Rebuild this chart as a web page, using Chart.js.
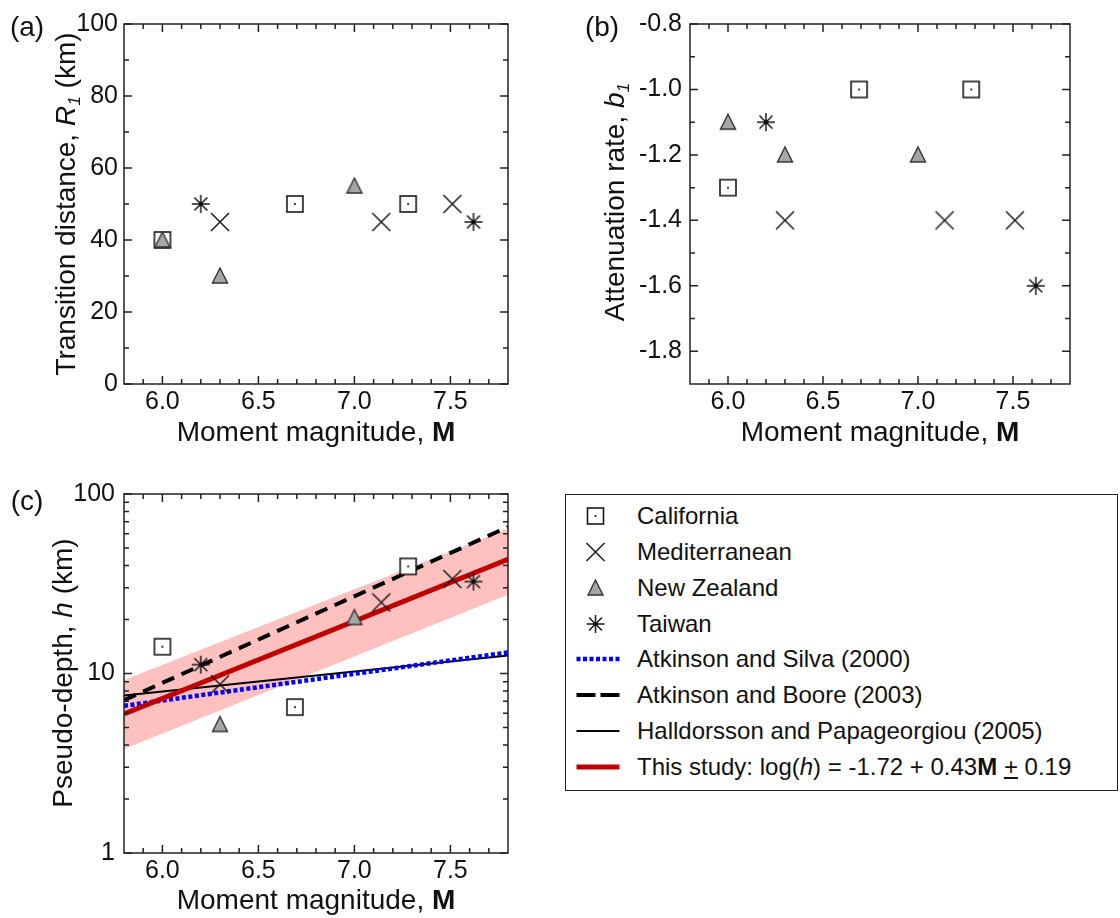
<!DOCTYPE html>
<html>
<head>
<meta charset="utf-8">
<title>Transition distance, attenuation rate and pseudo-depth vs magnitude</title>
<script src="https://cdn.jsdelivr.net/npm/chart.js@4.4.1/dist/chart.umd.min.js"></script>
<style>
  body { margin: 0; background: #fff; }
  #page { position: relative; width: 1120px; height: 918px; overflow: hidden;
          font-family: 'Liberation Sans', Arial, sans-serif; color: #111; }
  #page canvas.panel { position: absolute; }
  .txt { position: absolute; white-space: nowrap; line-height: 1; font-size: 28px;
         transform: translate(-50%, -50%); }
  .rot { transform: translate(-50%, -50%) rotate(-90deg); }
  sub { font-size: 0.62em; vertical-align: -0.28em; line-height: 0; }
  #legend { position: absolute; left: 565px; top: 494px; width: 553px; height: 297px;
            border: 1.5px solid #222; box-sizing: border-box; }
  .row { position: absolute; left: 0; width: 540px; height: 30px; font-size: 24px; line-height: 30px; }
  .row canvas { position: absolute; left: 6px; top: 0; }
  .row span { position: absolute; left: 71px; white-space: nowrap; }
</style>
</head>
<body>
<div id="page">
  <div class="txt" style="left:27px;top:27px">(a)</div>
  <div class="txt" style="left:602px;top:27px">(b)</div>
  <div class="txt" style="left:27px;top:501px">(c)</div>

  <div class="txt rot" style="left:66px;top:204px">Transition distance, <i>R</i><sub><i>1</i></sub> (km)</div>
  <div class="txt rot" style="left:615px;top:202px">Attenuation rate, <i>b</i><sub><i>1</i></sub></div>
  <div class="txt rot" style="left:63px;top:673px">Pseudo-depth, <i>h</i> (km)</div>

  <div class="txt" style="left:316px;top:432px">Moment magnitude, <b>M</b></div>
  <div class="txt" style="left:880px;top:432px">Moment magnitude, <b>M</b></div>
  <div class="txt" style="left:316px;top:900px">Moment magnitude, <b>M</b></div>

  <div id="legend"></div>
</div>

<script>
// ---- data ----
// California
const caliM  = [6.0, 6.69, 7.28];
const caliR1 = [40, 50, 50];
const caliB1 = [-1.3, -1.0, -1.0];
const caliH  = [14.1, 6.5, 39.5];
// Mediterranean
const medM  = [6.3, 7.14, 7.51];
const medR1 = [45, 45, 50];
const medB1 = [-1.4, -1.4, -1.4];
const medH  = [8.7, 24.9, 33.6];
// New Zealand (no h value shown for the M6.0 event)
const nzM  = [6.0, 6.3, 7.0];
const nzR1 = [40, 30, 55];
const nzB1 = [-1.1, -1.2, -1.2];
const nzH  = [null, 5.2, 20.5];
// Taiwan
const twM  = [6.2, 7.62];
const twR1 = [50, 45];
const twB1 = [-1.1, -1.6];
const twH  = [11.2, 32.5];

// model curves for h, end points at M 5.8 and 7.8
const fitM    = [5.8, 7.8];
const asH     = [6.6, 13.1];   // Atkinson and Silva (2000)
const abH     = [7.1, 65.5];   // Atkinson and Boore (2003)
const hpH     = [7.55, 12.6];  // Halldorsson and Papageorgiou (2005)
const studyH  = [5.95, 43.3];  // this study
const studyLo = [3.8, 27.5];
const studyHi = [9.2, 64];

// ticks
const magTicks = [6.0, 6.5, 7.0, 7.5];
const magMinor = [5.9, 6.1, 6.2, 6.3, 6.4, 6.6, 6.7, 6.8, 6.9, 7.1, 7.2, 7.3, 7.4, 7.6, 7.7];
const r1Ticks = [0, 20, 40, 60, 80, 100];
const r1Minor = [10, 30, 50, 70, 90];
const b1Ticks = [-1.8, -1.6, -1.4, -1.2, -1.0, -0.8];
const b1Minor = [-1.7, -1.5, -1.3, -1.1, -0.9];
const hTicks = [1, 10, 100];
const hMinor = [2, 3, 4, 5, 6, 7, 8, 9, 20, 30, 40, 50, 60, 70, 80, 90];

const regionNames = ['California', 'Mediterranean', 'New Zealand', 'Taiwan'];
const modelNames = ['Atkinson and Silva (2000)', 'Atkinson and Boore (2003)',
                    'Halldorsson and Papageorgiou (2005)'];

Chart.defaults.font.family = "'Liberation Sans', Arial, sans-serif";
Chart.defaults.color = '#111';

const page = document.getElementById('page');

function pts(xs, ys) {
  return xs.map((x, i) => ({ x: x, y: ys[i] }));
}

function drawMarker(g, kind, cx, cy) {
  g.save();
  g.translate(cx, cy);
  g.strokeStyle = '#1a1a1a';
  g.lineWidth = 1.6;
  if (kind === 'square') {
    g.fillStyle = '#fff';
    g.fillRect(-8, -8, 16, 16);
    g.strokeRect(-8, -8, 16, 16);
    g.fillStyle = '#111';
    g.fillRect(-0.9, -0.9, 1.8, 1.8);
  } else if (kind === 'cross') {
    g.lineWidth = 1.5;
    g.beginPath();
    g.moveTo(-9, -9); g.lineTo(9, 9);
    g.moveTo(9, -9); g.lineTo(-9, 9);
    g.stroke();
  } else if (kind === 'tri') {
    g.strokeStyle = '#333';
    g.lineWidth = 1.4;
    g.beginPath();
    g.moveTo(0, -8); g.lineTo(7.5, 7); g.lineTo(-7.5, 7);
    g.closePath();
    g.fillStyle = '#a6a6a6';
    g.fill();
    g.stroke();
  } else if (kind === 'star') {
    g.lineWidth = 1.5;
    g.beginPath();
    g.moveTo(0, -9); g.lineTo(0, 9);
    g.moveTo(-9, 0); g.lineTo(9, 0);
    g.moveTo(-6.5, -6.5); g.lineTo(6.5, 6.5);
    g.moveTo(6.5, -6.5); g.lineTo(-6.5, 6.5);
    g.stroke();
    g.fillStyle = '#111';
    g.beginPath(); g.arc(0, 0, 2.2, 0, Math.PI * 2); g.fill();
  }
  g.restore();
}

function markerImg(kind) {
  const c = document.createElement('canvas');
  c.width = 24; c.height = 24;
  drawMarker(c.getContext('2d'), kind, 12, 12);
  return c;
}
const mk = { square: markerImg('square'), cross: markerImg('cross'),
             tri: markerImg('tri'), star: markerImg('star') };

// box with inward ticks on all four sides
function boxTicks(xMajor, xMinor, yMajor, yMinor) {
  return {
    id: 'boxTicks',
    afterDatasetsDraw(chart) {
      const { ctx, chartArea: a, scales: { x, y } } = chart;
      ctx.save();
      ctx.strokeStyle = '#222';
      ctx.lineWidth = 1.5;
      ctx.beginPath();
      const vt = (v, len) => {
        const p = x.getPixelForValue(v);
        ctx.moveTo(p, a.bottom); ctx.lineTo(p, a.bottom - len);
        ctx.moveTo(p, a.top); ctx.lineTo(p, a.top + len);
      };
      const ht = (v, len) => {
        const p = y.getPixelForValue(v);
        ctx.moveTo(a.left, p); ctx.lineTo(a.left + len, p);
        ctx.moveTo(a.right, p); ctx.lineTo(a.right - len, p);
      };
      xMajor.forEach(v => vt(v, 8));
      xMinor.forEach(v => vt(v, 5));
      yMajor.forEach(v => ht(v, 8));
      yMinor.forEach(v => ht(v, 5));
      ctx.stroke();
      ctx.strokeRect(a.left, a.top, a.right - a.left, a.bottom - a.top);
      ctx.restore();
    }
  };
}

// one scatter dataset per region; ys = [cali, med, nz, tw]
function regionSets(ys) {
  return [
    { label: regionNames[0], data: pts(caliM, ys[0]), pointStyle: mk.square, pointRadius: 9, order: 4 },
    { label: regionNames[1], data: pts(medM, ys[1]), pointStyle: mk.cross, pointRadius: 9, order: 3 },
    { label: regionNames[2], data: pts(nzM, ys[2]), pointStyle: mk.tri, pointRadius: 9, order: 2 },
    { label: regionNames[3], data: pts(twM, ys[3]), pointStyle: mk.star, pointRadius: 9, order: 1 }
  ];
}

function makePanel(left, top, w, h, area, yScale, datasets, yMajor, yMinor) {
  const cv = document.createElement('canvas');
  cv.className = 'panel';
  cv.width = w; cv.height = h;
  cv.style.left = left + 'px'; cv.style.top = top + 'px';
  cv.style.width = w + 'px'; cv.style.height = h + 'px';
  page.insertBefore(cv, page.firstChild);

  return new Chart(cv, {
    type: 'scatter',
    data: { datasets: datasets },
    options: {
      responsive: false,
      animation: false,
      devicePixelRatio: 1,
      events: [],
      layout: { padding: { left: 0, top: area.t, right: w - area.r, bottom: 0 } },
      plugins: { legend: { display: false }, tooltip: { enabled: false } },
      scales: {
        x: {
          type: 'linear', min: 5.8, max: 7.8,
          afterBuildTicks: s => { s.ticks = magTicks.map(v => ({ value: v })); },
          afterFit: s => { s.height = h - area.b; },
          grid: { display: false, drawTicks: false },
          border: { display: false },
          ticks: { font: { size: 25 }, color: '#111', padding: 3, maxRotation: 0,
                   autoSkip: false, callback: v => v.toFixed(1) }
        },
        y: Object.assign({
          afterFit: s => { s.width = area.l; },
          grid: { display: false, drawTicks: false },
          border: { display: false }
        }, yScale)
      }
    },
    plugins: [boxTicks(magTicks, magMinor, yMajor, yMinor)]
  });
}

// (a) transition distance
makePanel(0, 0, 560, 470, { l: 124, t: 24, r: 508, b: 384 }, {
  type: 'linear', min: 0, max: 100,
  afterBuildTicks: s => { s.ticks = r1Ticks.map(v => ({ value: v })); },
  ticks: { font: { size: 25 }, color: '#111', padding: 6, autoSkip: false, callback: v => String(v) }
}, regionSets([caliR1, medR1, nzR1, twR1]), r1Ticks, r1Minor);

// (b) attenuation rate
makePanel(560, 0, 560, 470, { l: 130, t: 24, r: 510, b: 384 }, {
  type: 'linear', min: -1.9, max: -0.8,
  afterBuildTicks: s => { s.ticks = b1Ticks.map(v => ({ value: v })); },
  ticks: { font: { size: 25 }, color: '#111', padding: 8, autoSkip: false, callback: v => v.toFixed(1) }
}, regionSets([caliB1, medB1, nzB1, twB1]), b1Ticks, b1Minor);

// (c) pseudo-depth with model curves
const lineSets = [
  { type: 'line', label: 'band upper', data: pts(fitM, studyHi), fill: '+1',
    backgroundColor: '#ffc0c0', borderColor: 'rgba(0,0,0,0)', borderWidth: 0,
    pointRadius: 0, order: 20 },
  { type: 'line', label: 'band lower', data: pts(fitM, studyLo), fill: false,
    borderColor: 'rgba(0,0,0,0)', borderWidth: 0, pointRadius: 0, order: 19 },
  { type: 'line', label: modelNames[2], data: pts(fitM, hpH), fill: false,
    borderColor: '#000', borderWidth: 2, pointRadius: 0, order: 12 },
  { type: 'line', label: modelNames[1], data: pts(fitM, abH), fill: false,
    borderColor: '#000', borderWidth: 4, borderDash: [13, 8], pointRadius: 0, order: 11 },
  { type: 'line', label: modelNames[0], data: pts(fitM, asH), fill: false,
    borderColor: '#0000ff', borderWidth: 4.5, borderDash: [4, 2.5], pointRadius: 0, order: 10 },
  { type: 'line', label: 'This study', data: pts(fitM, studyH), fill: false,
    borderColor: '#c00000', borderWidth: 5, pointRadius: 0, order: 9 }
];

makePanel(0, 470, 560, 448, { l: 124, t: 23, r: 508, b: 383 }, {
  type: 'logarithmic', min: 1, max: 100,
  afterBuildTicks: s => { s.ticks = hTicks.map(v => ({ value: v })); },
  ticks: { font: { size: 25 }, color: '#111', padding: 9, autoSkip: false, callback: v => String(v) }
}, lineSets.concat(regionSets([caliH, medH, nzH, twH])), hTicks, hMinor);

// legend
function seg(g) {
  g.beginPath(); g.moveTo(4.5, 15); g.lineTo(47.5, 15); g.stroke();
}
const legend = document.getElementById('legend');
const legendRows = [
  { text: regionNames[0], draw: g => drawMarker(g, 'square', 23.5, 15) },
  { text: regionNames[1], draw: g => drawMarker(g, 'cross', 23.5, 15) },
  { text: regionNames[2], draw: g => drawMarker(g, 'tri', 23.5, 15) },
  { text: regionNames[3], draw: g => drawMarker(g, 'star', 23.5, 15) },
  { text: modelNames[0], draw: g => { g.strokeStyle = '#0000ff'; g.lineWidth = 4.5; g.setLineDash([4, 2.5]); seg(g); } },
  { text: modelNames[1], draw: g => { g.strokeStyle = '#000'; g.lineWidth = 4; g.setLineDash([19, 5]); seg(g); } },
  { text: modelNames[2], draw: g => { g.strokeStyle = '#000'; g.lineWidth = 2; seg(g); } },
  { html: 'This study: log(<i>h</i>) = -1.72 + 0.43<b>M</b> <u>+</u> 0.19',
    draw: g => { g.strokeStyle = '#c00000'; g.lineWidth = 5; seg(g); } }
];
legendRows.forEach((r, i) => {
  const row = document.createElement('div');
  row.className = 'row';
  row.style.top = (516.5 - 495.5 - 15 + i * 35.86) + 'px';
  const c = document.createElement('canvas');
  c.width = 52; c.height = 30;
  r.draw(c.getContext('2d'));
  row.appendChild(c);
  const s = document.createElement('span');
  if (r.html) s.innerHTML = r.html; else s.textContent = r.text;
  row.appendChild(s);
  legend.appendChild(row);
});
</script>
</body>
</html>
